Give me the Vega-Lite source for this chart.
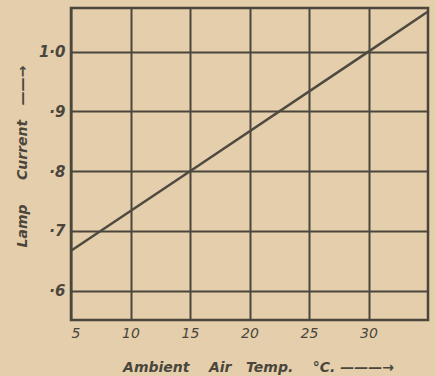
{
  "$schema": "https://vega.github.io/schema/vega-lite/v6.json",
  "autosize": "none",
  "width": 357,
  "height": 312,
  "padding": {"left": 71, "top": 8, "right": 8, "bottom": 56},
  "background": "#e5ceac",
  "config": {
    "view": {"stroke": "#4a463c", "strokeWidth": 2.5},
    "axis": {
      "labelFont": "DejaVu Sans",
      "labelFontStyle": "italic",
      "labelColor": "#4a463c",
      "titleFont": "DejaVu Sans",
      "titleFontStyle": "italic",
      "titleFontWeight": "bold",
      "titleColor": "#4a463c",
      "gridColor": "#4a463c",
      "gridOpacity": 1,
      "gridWidth": 2,
      "domain": false,
      "ticks": false
    }
  },
  "data": {
    "values": [
      {"temp": 5, "current": 0.667},
      {"temp": 15, "current": 0.8},
      {"temp": 30, "current": 1.0},
      {"temp": 35, "current": 1.067}
    ]
  },
  "mark": {"type": "line", "color": "#4f4a40", "strokeWidth": 2.5},
  "encoding": {
    "x": {
      "field": "temp",
      "type": "quantitative",
      "scale": {"domain": [5, 35], "nice": false, "zero": false},
      "axis": {
        "values": [5, 10, 15, 20, 25, 30],
        "labelFontSize": 14,
        "labelPadding": 6,
        "title": "Ambient\u00a0\u00a0\u00a0 Air\u00a0\u00a0 Temp.\u00a0\u00a0\u00a0 °C.\u00a0———→",
        "titleFontSize": 14,
        "titlePadding": 20,
        "titleX": 187
      }
    },
    "y": {
      "field": "current",
      "type": "quantitative",
      "scale": {"domain": [0.551, 1.073], "nice": false, "zero": false},
      "axis": {
        "values": [0.6, 0.7, 0.8, 0.9, 1.0],
        "labelExpr": "datum.value >= 1 ? '1·0' : '·' + round(datum.value * 10)",
        "labelFontSize": 15,
        "labelFontWeight": "bold",
        "labelPadding": 6,
        "title": "Lamp\u00a0\u00a0\u00a0\u00a0 Current\u00a0\u00a0\u00a0——→",
        "titleFontSize": 14,
        "titlePadding": 9,
        "titleY": 148
      }
    }
  }
}
